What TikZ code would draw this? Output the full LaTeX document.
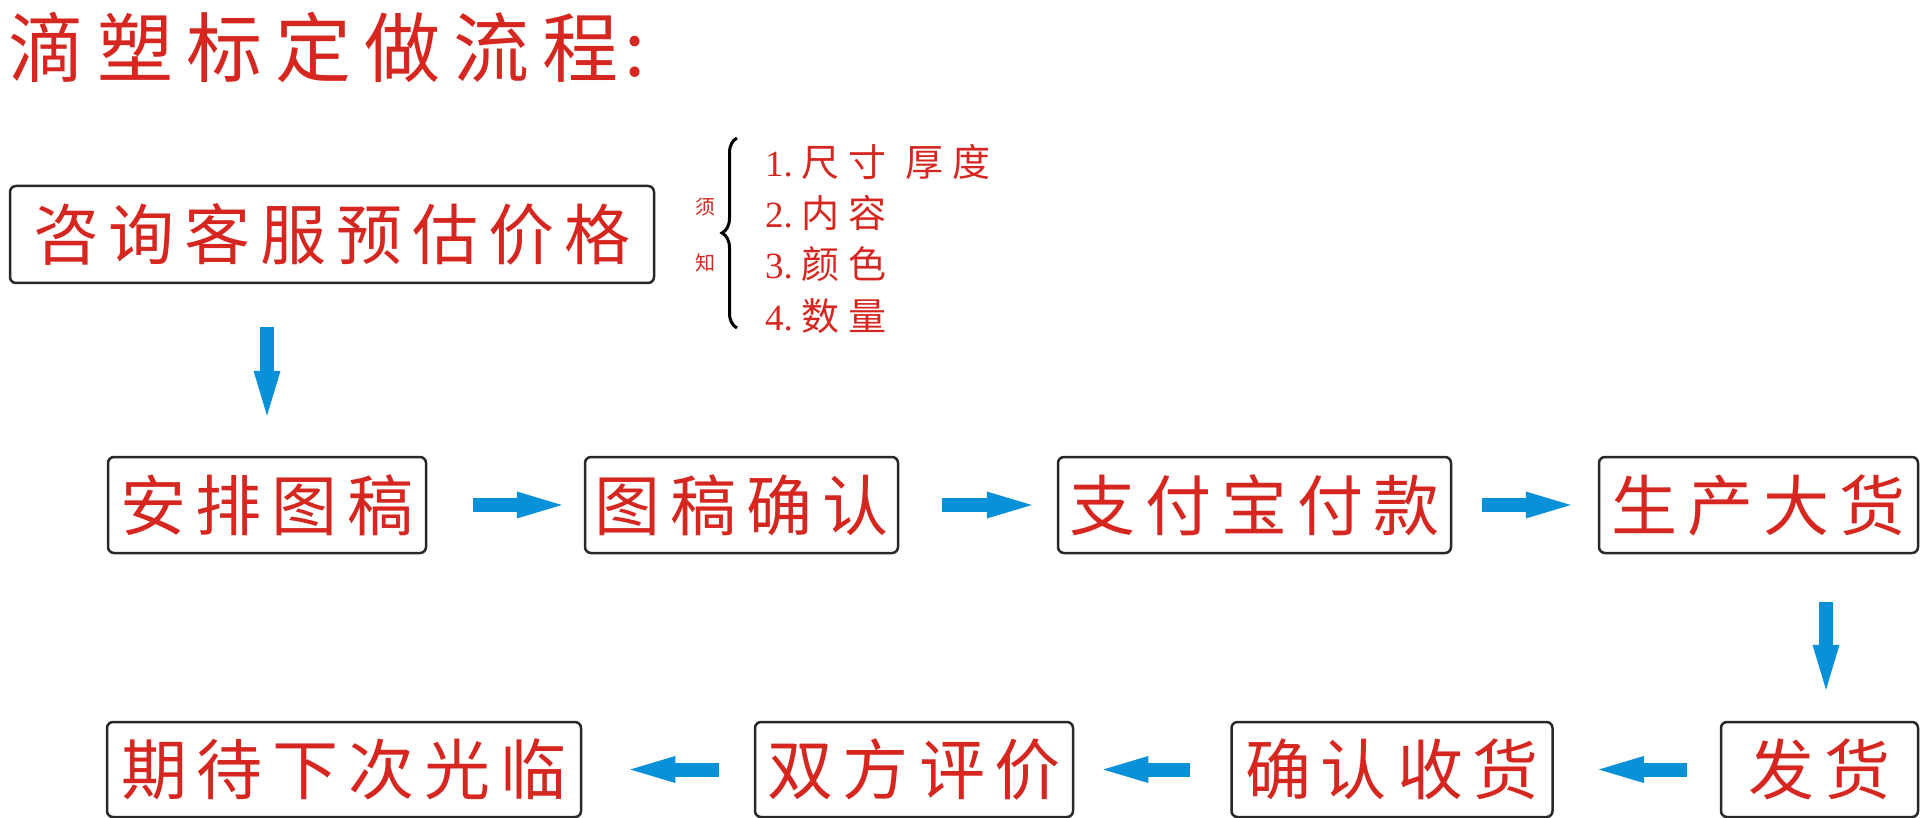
\documentclass[tikz,border=0pt]{standalone}
\usepackage{fontspec}
\setmainfont{Liberation Serif}
\newfontfamily\cjk{Noto Sans CJK SC}
\usetikzlibrary{arrows.meta,calc,decorations.pathreplacing}
\definecolor{textred}{RGB}{214,38,32}
\definecolor{arrowblue}{RGB}{8,144,216}
\definecolor{boxline}{RGB}{40,40,40}
\makeatletter
\newcommand\spc[2]{\def\spc@sep{}\@tfor\spc@c:=#2\do{\spc@sep\spc@c\def\spc@sep{\kern#1}}}
\makeatother
\begin{document}
\begin{tikzpicture}[x=1pt,y=-1pt,
  flowbox/.style={draw=boxline, line width=2.5pt, rounded corners=6pt, inner sep=0pt,
    text=textred, font=\cjk\fontsize{66}{66}\selectfont},
  bigarrow/.style={draw=arrowblue, line width=14pt,
    -{Triangle[length=45pt,width=27pt,line width=0pt]}},
  redtxt/.style={text=textred, inner sep=0pt},
  notetxt/.style={redtxt, anchor=west, font=\fontsize{37}{37}\selectfont},
]
\useasboundingbox (0,0) rectangle (1920,818);

% title
\node[redtxt, anchor=west, font=\cjk\fontsize{76}{76}\selectfont] (title) at (8,47)
  {\spc{13pt}{滴塑标定做流程}\kern6pt:};

% first box
\node[flowbox, minimum width=644pt, minimum height=97pt] (q) at (332,234.5) {\spc{10pt}{咨询客服预估价格}};

% notes
\node[redtxt, font=\cjk\fontsize{20}{20}\selectfont] (xu) at (705,207) {须};
\node[redtxt, font=\cjk\fontsize{20}{20}\selectfont] (zhi) at (705,263) {知};
\draw[line width=3pt, decorate, decoration={brace, amplitude=15pt}] (737,328) -- (737,138);
\node[notetxt] (n1) at (765,162)
  {1.\kern9pt{\cjk\fontsize{38}{38}\selectfont 尺\kern9pt 寸\kern19pt 厚\kern9pt 度}};
\node[notetxt] (n2) at (765,213)
  {2.\kern9pt{\cjk\fontsize{38}{38}\selectfont 内\kern9pt 容}};
\node[notetxt] (n3) at (765,264)
  {3.\kern9pt{\cjk\fontsize{38}{38}\selectfont 颜\kern9pt 色}};
\node[notetxt] (n4) at (765,316)
  {4.\kern9pt{\cjk\fontsize{38}{38}\selectfont 数\kern9pt 量}};

% row 2
\node[flowbox, minimum width=318pt, minimum height=96pt] (a) at (267,505) {\spc{10pt}{安排图稿}};
\node[flowbox, minimum width=313pt, minimum height=96pt] (b) at (741.5,505) {\spc{10pt}{图稿确认}};
\node[flowbox, minimum width=393pt, minimum height=96pt] (c) at (1254.5,505) {\spc{10pt}{支付宝付款}};
\node[flowbox, minimum width=319pt, minimum height=96pt] (d) at (1758.5,505) {\spc{10pt}{生产大货}};

% row 3
\node[flowbox, minimum width=197pt, minimum height=95pt] (e) at (1819.5,769.5) {\spc{10pt}{发货}};
\node[flowbox, minimum width=321pt, minimum height=95pt] (f) at (1392,769.5) {\spc{10pt}{确认收货}};
\node[flowbox, minimum width=318pt, minimum height=95pt] (g) at (914,769.5) {\spc{10pt}{双方评价}};
\node[flowbox, minimum width=474pt, minimum height=95pt] (h) at (344,769.5) {\spc{10pt}{期待下次光临}};

% arrows
\draw[bigarrow] ($(q.south -| a.north)+(0,43)$) -- ($(a.north)+(0,-40)$);
\draw[bigarrow] ($(a.east)+(46,0)$) -- ($(b.west)+(-22,0)$);
\draw[bigarrow] ($(b.east)+(43,0)$) -- ($(c.west)+(-25,0)$);
\draw[bigarrow] ($(c.east)+(30,0)$) -- ($(d.west)+(-27,0)$);
\draw[bigarrow] ($(d.south)+(67.5,48)$) -- ($(e.north)+(6.5,-31)$);
\draw[bigarrow] ($(e.west)+(-33,0)$) -- ($(f.east)+(45,0)$);
\draw[bigarrow] ($(f.west)+(-40,0)$) -- ($(g.east)+(29,0)$);
\draw[bigarrow] ($(g.west)+(-35,0)$) -- ($(h.east)+(48,0)$);
\end{tikzpicture}
\end{document}
